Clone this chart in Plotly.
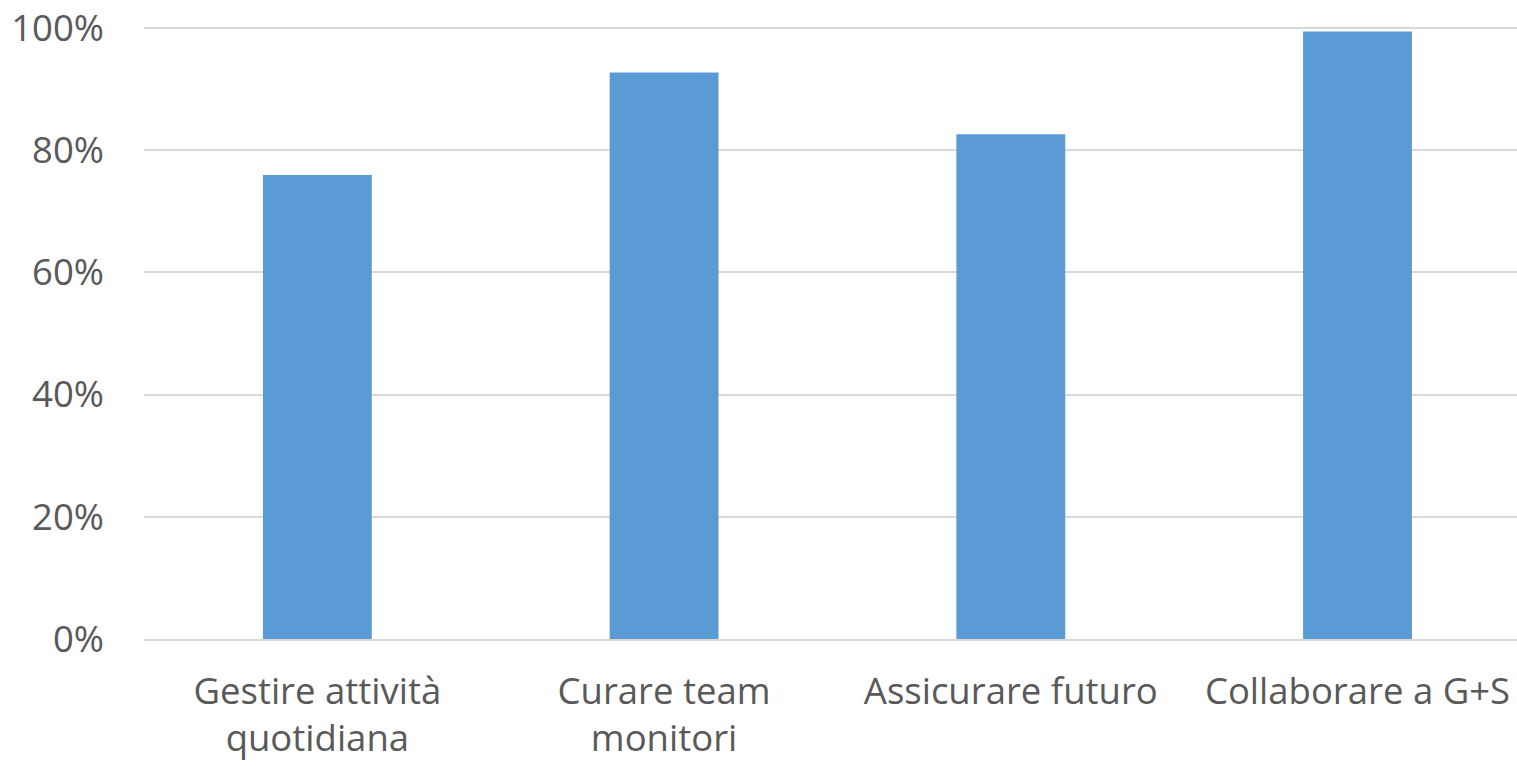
import plotly.graph_objects as go

categories = ["Gestire attività<br>quotidiana", "Curare team<br>monitori", "Assicurare futuro", "Collaborare a G+S"]
values = [0.759, 0.927, 0.826, 0.994]
y_ticks = [0, 0.2, 0.4, 0.6, 0.8, 1.0]
y_tick_labels = ["0%", "20%", "40%", "60%", "80%", "100%"]

fig = go.Figure(go.Bar(x=categories, y=values, marker=dict(color="#5B9BD5", line=dict(width=0))))

fig.update_layout(
    width=1517, height=766,
    margin=dict(l=144, r=0, t=26, b=127),
    paper_bgcolor="white", plot_bgcolor="white",
    bargap=0.686,
    showlegend=False,
    font=dict(family="Open Sans", color="#595959", size=36.5),
)
fig.update_yaxes(range=[0, 1.003], tickvals=y_ticks, ticktext=y_tick_labels,
                 showgrid=True, gridcolor="#D9D9D9", gridwidth=1.5,
                 zeroline=False, showline=False, ticks="", ticklabelstandoff=39,
                 ticklabeloverflow="allow",
                 tickfont=dict(size=36.5, color="#595959"))
fig.update_xaxes(range=[-0.5, 3.46], showline=True, linecolor="#D9D9D9", linewidth=1.5,
                 ticks="", ticklabelstandoff=19, ticklabeloverflow="allow",
                 tickfont=dict(size=36.5, color="#595959"))

fig.write_html(
    "out.html",
    config={"displayModeBar": False},
    post_script="document.body.style.margin='0';document.body.style.overflow='hidden';",
)
